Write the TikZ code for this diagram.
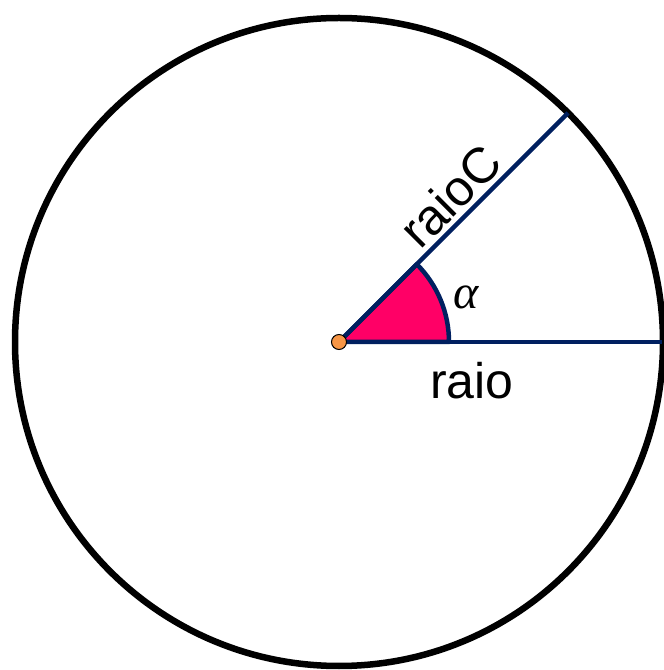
\documentclass[tikz,border=0pt]{standalone}
\usepackage{fontspec}
\setmainfont{Liberation Sans}
\newfontfamily\alphafont{Liberation Serif}
\usetikzlibrary{positioning,calc}
\definecolor{navy}{HTML}{002060}
\definecolor{sectorpink}{HTML}{FF0066}
\definecolor{dotorange}{HTML}{F79646}

\begin{document}
\begin{tikzpicture}[x=1pt,y=1pt,
  radius line/.style={navy,line width=4.5pt},
  big label/.style={font=\fontsize{50}{58}\selectfont,inner sep=0pt}]
\useasboundingbox (0,0) rectangle (664,670);
\coordinate (O) at (339,328);
\coordinate (A) at ($(O)+(0:323)$);
\coordinate (B) at ($(O)+(45:324)$);
% circle
\draw[line width=6.5pt] (O) circle (324);
% angle sector
\draw[radius line,fill=sectorpink,line join=round] (O) -- ++(0:110) arc (0:45:110) -- cycle;
\draw[radius line] (O) -- (A);
\draw[radius line] (O) -- (B);
\node[big label] (raio) at (472,289) {raio};
\node[big label,rotate=45] (raioC) at (450,474) {raioC};
\node[font=\alphafont\itshape\fontsize{48}{52}\selectfont,inner sep=0pt] (alpha) at (466,373) {α};
\node[circle,draw=black,line width=1pt,fill=dotorange,minimum size=15pt,inner sep=0pt] (centre) at (O) {};
\end{tikzpicture}
\end{document}
